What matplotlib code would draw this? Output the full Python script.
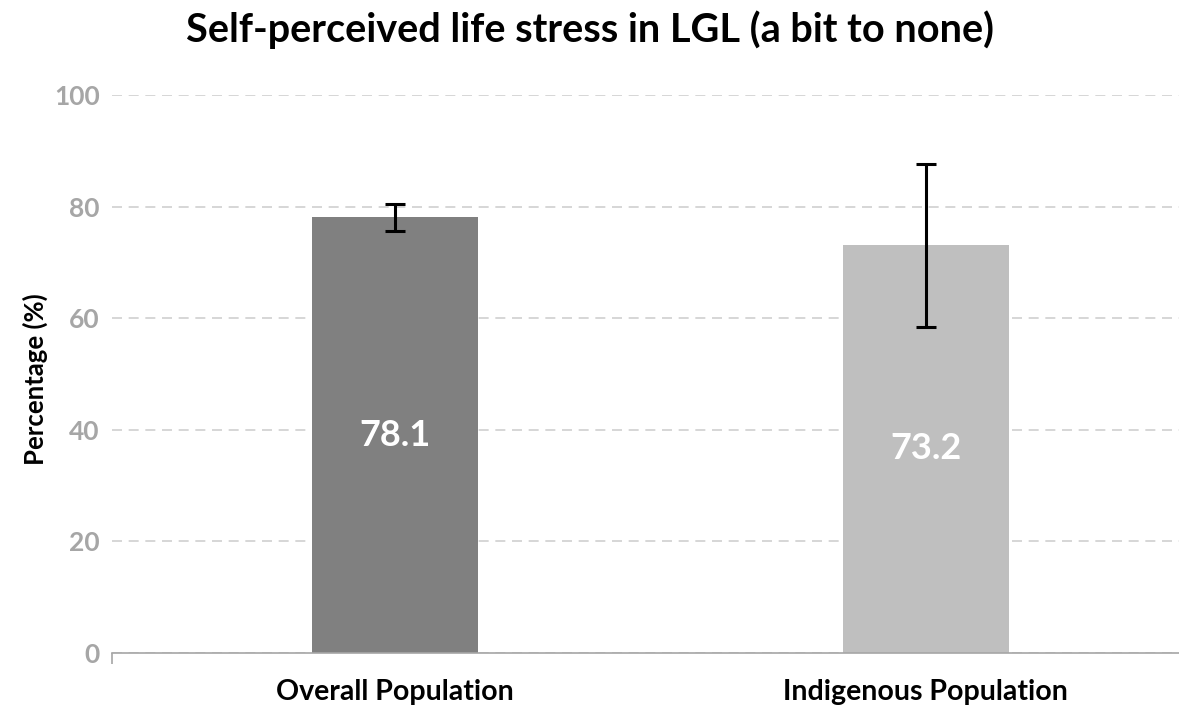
import matplotlib.pyplot as plt

categories = ["Overall Population", "Indigenous Population"]
values = [78.1, 73.2]
err_low = [75.6, 58.4]
err_high = [80.5, 87.6]
bar_colors = ["#808080", "#bfbfbf"]

plt.rcParams['font.family'] = ['Lato', 'DejaVu Sans']

fig = plt.figure(figsize=(11.79, 7.07), dpi=100)
ax = fig.add_axes([0.095, 0.0764, 0.905, 0.7892])

x = list(range(len(categories)))
yerr = [[v - lo for v, lo in zip(values, err_low)],
        [hi - v for v, hi in zip(values, err_high)]]
ax.bar(x, values, width=0.313, color=bar_colors, zorder=2)
ax.errorbar(x, values, yerr=yerr, fmt='none', ecolor='black',
            elinewidth=2.2, capsize=7, capthick=2.2, zorder=3)

for xi, v in zip(x, values):
    ax.text(xi, v / 2, f"{v:.1f}", ha='center', va='center',
            color='white', fontsize=26, fontweight='bold', zorder=4)

xlim = (-0.533, 1.477)
ax.set_xlim(*xlim)
ax.set_ylim(0, 100)
ax.set_yticks(range(0, 101, 20))
ax.set_xticks(x)
ax.set_xticklabels(categories, fontsize=20.5, fontweight='bold')
ax.set_xticks([xlim[0]], minor=True)
ax.tick_params(axis='x', which='major', length=0, pad=19)
ax.tick_params(axis='x', which='minor', length=8, width=1.2, color='#a6a6a6')
ax.tick_params(axis='y', length=0, pad=9, labelsize=19, labelcolor='#a6a6a6')
for lbl in ax.get_yticklabels():
    lbl.set_fontweight('bold')

ax.yaxis.grid(True, linestyle=(0, (6, 4)), color='#d0d0d0', linewidth=1.2, zorder=0)
for s in ['top', 'right', 'left']:
    ax.spines[s].set_visible(False)
ax.spines['bottom'].set_color('#a6a6a6')
ax.spines['bottom'].set_linewidth(1.2)

ax.set_ylabel("Percentage (%)", fontsize=18.5, fontweight='bold', labelpad=4)
ax.yaxis.set_label_coords(-0.06, 0.49)
fig.suptitle("Self-perceived life stress in LGL (a bit to none)",
             fontsize=28.5, fontweight='bold', x=0.5, y=0.985)

fig.savefig("out.png", dpi=100)
